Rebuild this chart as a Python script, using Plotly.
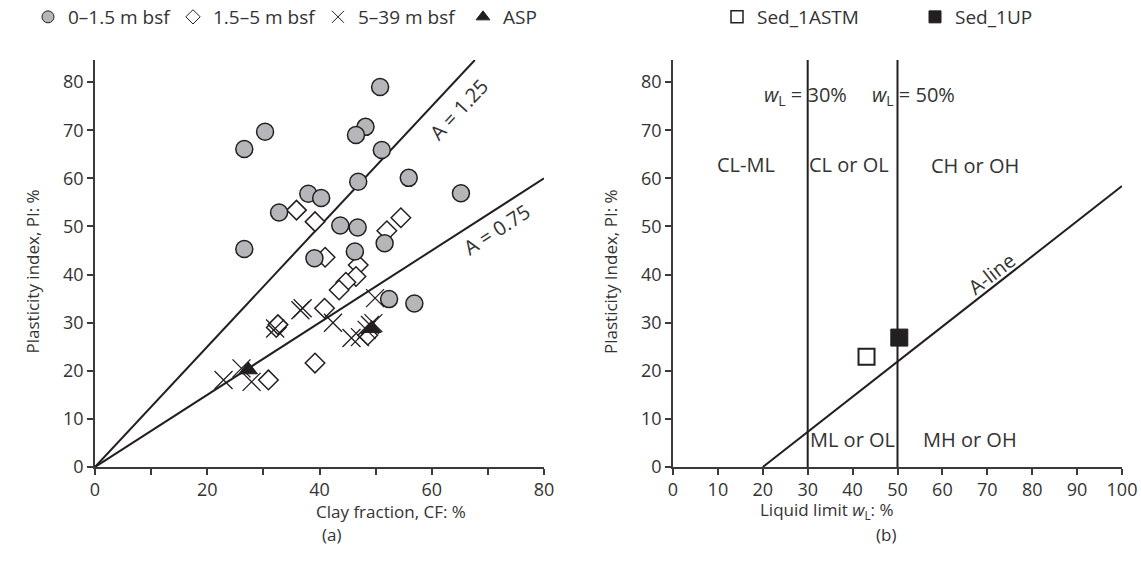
import plotly.graph_objects as go

# ---------------- data: panel (a) ----------------
cf_0_1p5 = [50.8, 30.3, 26.6, 48.2, 46.5, 51.1, 46.9, 55.9, 38.0, 40.3, 32.8, 43.7, 46.8, 26.6, 51.6, 46.3, 39.1, 65.2, 52.4, 56.9]
pi_0_1p5 = [79.0, 69.7, 66.1, 70.7, 69.0, 65.9, 59.3, 60.1, 56.8, 55.9, 52.9, 50.2, 49.8, 45.3, 46.5, 44.8, 43.4, 56.9, 34.9, 34.0]

cf_1p5_5 = [35.9, 39.2, 54.5, 52.0, 41.0, 46.9, 46.5, 44.7, 43.5, 40.9, 32.3, 32.6, 39.2, 30.9, 48.6]
pi_1p5_5 = [53.4, 51.0, 51.8, 49.1, 43.6, 42.0, 39.6, 38.4, 36.8, 33.0, 29.0, 29.6, 21.6, 18.1, 27.4]

cf_5_39 = [36.6, 37.0, 32.1, 49.9, 42.4, 45.7, 47.2, 48.4, 49.0, 49.6, 26.1, 27.9, 22.9]
pi_5_39 = [32.6, 33.0, 28.8, 35.1, 30.0, 26.8, 27.0, 28.5, 29.5, 29.9, 20.5, 17.7, 18.1]

cf_asp = [27.3, 49.3]
pi_asp = [20.2, 28.8]

a_values = [1.25, 0.75]
a_labels = ["A = 1.25", "A = 0.75"]

# ---------------- data: panel (b) ----------------
ll_astm = [43.1]
pi_astm = [22.9]
ll_up = [50.4]
pi_up = [26.9]

ll_bounds = [30, 50]
aline_ll0 = 20
aline_slope = 0.73

zone_labels = ["CL-ML", "CL or OL", "CH or OH", "ML or OL", "MH or OH"]
zone_ll = [16.3, 39.3, 67.3, 39.9, 66.2]
zone_pi = [62.8, 62.8, 62.6, 5.8, 5.8]

x_max_a = 80
x_max_b = 100
y_max = 84.6

W, H = 1141, 562
FONT = "Open Sans"
DARK = "#231f20"
TXT = "#333333"
GREY_FILL = "#b5b6b9"


def px(x):
    return x / W


def py(y):
    return (H - y) / H


fig = go.Figure()

for a in a_values:
    xe = min(x_max_a, y_max / a)
    fig.add_trace(go.Scatter(x=[0, xe], y=[0, a * xe], mode="lines",
                             line=dict(color=DARK, width=2), showlegend=False,
                             hoverinfo="skip", xaxis="x", yaxis="y"))

series_a = [
    ("0\u20131.5 m bsf", cf_0_1p5, pi_0_1p5,
     dict(symbol="circle", size=17, color=GREY_FILL, line=dict(color=DARK, width=1.5)),
     dict(symbol="circle", size=12, color=GREY_FILL, line=dict(color=DARK, width=1))),
    ("1.5\u20135 m bsf", cf_1p5_5, pi_1p5_5,
     dict(symbol="diamond", size=15, color="white", line=dict(color=DARK, width=1.5)),
     dict(symbol="diamond", size=11, color="white", line=dict(color=DARK, width=1))),
    ("5\u201339 m bsf", cf_5_39, pi_5_39,
     dict(symbol="x-thin-open", size=18, color=DARK, line=dict(color=DARK, width=1.3)),
     dict(symbol="x-thin-open", size=12, color=DARK, line=dict(color=DARK, width=1))),
    ("ASP", cf_asp, pi_asp,
     dict(symbol="triangle-up", size=16, color=DARK, line=dict(color=DARK, width=1)),
     dict(symbol="triangle-up", size=12, color=DARK, line=dict(color=DARK, width=1))),
]
for i in [1, 2, 0, 3]:
    name, xs, ys, mk, _ = series_a[i]
    fig.add_trace(go.Scatter(x=xs, y=ys, mode="markers", name=name, marker=mk,
                             showlegend=False, xaxis="x", yaxis="y"))
for name, xs, ys, _, lmk in series_a:
    fig.add_trace(go.Scatter(x=[None], y=[None], mode="markers", name=name, marker=lmk,
                             xaxis="x", yaxis="y", legend="legend"))

for ll in ll_bounds:
    fig.add_trace(go.Scatter(x=[ll, ll], y=[0, y_max], mode="lines",
                             line=dict(color=DARK, width=2), showlegend=False,
                             hoverinfo="skip", xaxis="x2", yaxis="y2"))
fig.add_trace(go.Scatter(x=[aline_ll0, x_max_b], y=[0, aline_slope * (x_max_b - aline_ll0)],
                         mode="lines", line=dict(color=DARK, width=2), showlegend=False,
                         hoverinfo="skip", xaxis="x2", yaxis="y2"))

series_b = [
    ("Sed_1ASTM", ll_astm, pi_astm,
     dict(symbol="square", size=16, color="white", line=dict(color=DARK, width=2)),
     dict(symbol="square", size=12, color="white", line=dict(color=DARK, width=1.5))),
    ("Sed_1UP", ll_up, pi_up,
     dict(symbol="square", size=17, color=DARK, line=dict(color=DARK, width=1)),
     dict(symbol="square", size=12, color=DARK, line=dict(color=DARK, width=1))),
]
for name, xs, ys, mk, _ in series_b:
    fig.add_trace(go.Scatter(x=xs, y=ys, mode="markers", name=name, marker=mk,
                             showlegend=False, xaxis="x2", yaxis="y2"))
for name, xs, ys, _, lmk in series_b:
    fig.add_trace(go.Scatter(x=[None], y=[None], mode="markers", name=name, marker=lmk,
                             xaxis="x2", yaxis="y2", legend="legend2"))

ann = []
ann.append(dict(x=64.8, y=74.3, xref="x", yref="y", text=a_labels[0], showarrow=False,
                textangle=-47, font=dict(size=20, color=TXT)))
ann.append(dict(x=71.6, y=49.3, xref="x", yref="y", text=a_labels[1], showarrow=False,
                textangle=-33, font=dict(size=20, color=TXT)))
for t, x, y in zip(zone_labels, zone_ll, zone_pi):
    ann.append(dict(x=x, y=y, xref="x2", yref="y2", text=t, showarrow=False,
                    font=dict(size=20, color=TXT)))
ann.append(dict(x=29.5, y=77.3, xref="x2", yref="y2", text="<i>w</i><sub>L</sub> = 30%",
                showarrow=False, font=dict(size=20, color=TXT)))
ann.append(dict(x=53.5, y=77.3, xref="x2", yref="y2", text="<i>w</i><sub>L</sub> = 50%",
                showarrow=False, font=dict(size=20, color=TXT)))
ann.append(dict(x=71, y=40.3, xref="x2", yref="y2", text="A-line", showarrow=False,
                textangle=-38, font=dict(size=20, color=TXT)))

ann.append(dict(x=px(314), y=py(525), xref="paper", yref="paper", text="Clay fraction, CF: %",
                showarrow=False, font=dict(size=17, color=TXT)))
ann.append(dict(x=px(896), y=py(525), xref="paper", yref="paper",
                text="Liquid limit <i>w</i><sub>L</sub>: %",
                showarrow=False, font=dict(size=17, color=TXT)))
ann.append(dict(x=px(320), y=py(548), xref="paper", yref="paper", text="(a)",
                showarrow=False, font=dict(size=17, color=TXT)))
ann.append(dict(x=px(898), y=py(548), xref="paper", yref="paper", text="(b)",
                showarrow=False, font=dict(size=17, color=TXT)))
ann.append(dict(x=px(18), y=py(272), xref="paper", yref="paper", text="Plasticity index, PI: %",
                showarrow=False, textangle=-90, font=dict(size=17, color=TXT)))
ann.append(dict(x=px(610), y=py(272), xref="paper", yref="paper", text="Plasticity Index, PI: %",
                showarrow=False, textangle=-90, font=dict(size=17, color=TXT)))

axis_common = dict(showline=True, linecolor="#3a3a3a", linewidth=1.5, ticks="outside",
                   ticklen=6, tickwidth=1.5, tickcolor="#3a3a3a", showgrid=False,
                   zeroline=False, tickfont=dict(size=18, color=TXT), automargin=False)

dom_a = [px(95), px(544)]
dom_b = [px(673), px(1122)]
dom_y = [py(467), py(60)]

fig.update_layout(
    width=W, height=H,
    margin=dict(l=0, r=0, t=0, b=0, autoexpand=False),
    paper_bgcolor="white", plot_bgcolor="white",
    font=dict(family=FONT, color=TXT),
    xaxis=dict(domain=dom_a, range=[0, x_max_a], tick0=0, dtick=20,
               minor=dict(dtick=10, ticks="outside", ticklen=6, tickwidth=1.5,
                          tickcolor="#3a3a3a", showgrid=False),
               anchor="y", **axis_common),
    yaxis=dict(domain=dom_y, range=[0, y_max], tick0=0, dtick=10,
               anchor="x", **axis_common),
    xaxis2=dict(domain=dom_b, range=[0, x_max_b], tick0=0, dtick=10,
                anchor="y2", **axis_common),
    yaxis2=dict(domain=dom_y, range=[0, y_max], tick0=0, dtick=10,
                anchor="x2", **axis_common),
    legend=dict(orientation="h", x=px(28), y=py(17), xanchor="left", yanchor="middle",
                traceorder="normal", font=dict(size=19, color=TXT),
                entrywidth=100, entrywidthmode="pixels", bgcolor="rgba(0,0,0,0)"),
    legend2=dict(orientation="h", x=px(717), y=py(17), xanchor="left", yanchor="middle",
                 font=dict(size=19, color=TXT), entrywidth=153, entrywidthmode="pixels",
                 bgcolor="rgba(0,0,0,0)"),
    annotations=ann,
)

fig.write_html(
    "out.html",
    config={"displayModeBar": False},
    post_script="document.body.style.margin='0';document.body.style.overflow='hidden';",
)
